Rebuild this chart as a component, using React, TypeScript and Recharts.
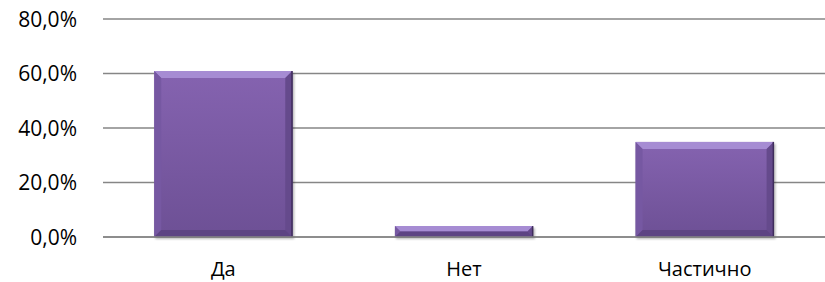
import React from 'react';
import { BarChart, Bar, XAxis, YAxis, CartesianGrid } from 'recharts';

const categories = ['Да', 'Нет', 'Частично'];
const values = [0.609, 0.04, 0.349];
const yTicks = [0, 0.2, 0.4, 0.6, 0.8];

const data = categories.map((c, i) => ({ name: c, value: values[i] }));

const fmt = (v: number) => (v * 100).toFixed(1).replace('.', ',') + '%';

const FONT = "'Open Sans', 'Noto Sans', sans-serif";

const BevelBar = (props: any) => {
  const { x, y, width: w, height: h } = props;
  if (!h || h <= 0) return null;
  const b = Math.min(7, h / 2, w / 2);
  return (
    <g>
      <rect x={x + 1} y={y + 2} width={w + 1} height={h} fill="rgba(0,0,0,0.28)" filter="url(#blurShadow)" />
      <rect x={x} y={y} width={w} height={h} fill="url(#faceGrad)" />
      <polygon points={`${x},${y} ${x + w},${y} ${x + w - b},${y + b} ${x + b},${y + b}`} fill="#a68cd3" />
      <polygon points={`${x},${y} ${x + b},${y + b} ${x + b},${y + h - b} ${x},${y + h}`} fill="#7658a2" />
      <polygon points={`${x + w},${y} ${x + w},${y + h} ${x + w - b},${y + h - b} ${x + w - b},${y + b}`} fill="#654a8c" />
      <polygon points={`${x},${y + h} ${x + b},${y + h - b} ${x + w - b},${y + h - b} ${x + w},${y + h}`} fill="#5d4483" />
      <rect x={x + w - 1} y={y} width={1.5} height={h} fill="#3f2d5c" />
    </g>
  );
};

const YTick = (props: any) => {
  const { y, payload } = props;
  return (
    <text x={77} y={y} dy={7.5} textAnchor="end" fontFamily={FONT} fontSize={21} fill="#000">
      {fmt(payload.value)}
    </text>
  );
};

const XTick = (props: any) => {
  const { x, y, payload } = props;
  return (
    <text x={x} y={y} dy={31} textAnchor="middle" fontFamily={FONT} fontSize={20} fill="#000">
      {payload.value}
    </text>
  );
};

export default function App() {
  return (
    <div style={{ position: 'absolute', left: 0, top: 0, width: 825, height: 282, background: '#fff' }}>
      <BarChart width={825} height={282} data={data} margin={{ top: 19, right: 0, bottom: 0, left: 0 }} barCategoryGap="21.3%">
        <defs>
          <linearGradient id="faceGrad" x1="0" y1="0" x2="0" y2="1">
            <stop offset="0%" stopColor="#8563b0" />
            <stop offset="100%" stopColor="#6d5095" />
          </linearGradient>
          <filter id="blurShadow" x="-10%" y="-10%" width="120%" height="120%">
            <feGaussianBlur stdDeviation="1.2" />
          </filter>
        </defs>
        <CartesianGrid vertical={false} stroke="#868686" strokeWidth={1.3} />
        <XAxis dataKey="name" axisLine={{ stroke: '#868686', strokeWidth: 1.3 }} tickLine={false} height={45} tick={<XTick />} interval={0} />
        <YAxis domain={[0, 0.8]} ticks={yTicks} width={103} axisLine={false} tickLine={false} tick={<YTick />} />
        <Bar dataKey="value" shape={<BevelBar />} isAnimationActive={false} />
      </BarChart>
    </div>
  );
}
